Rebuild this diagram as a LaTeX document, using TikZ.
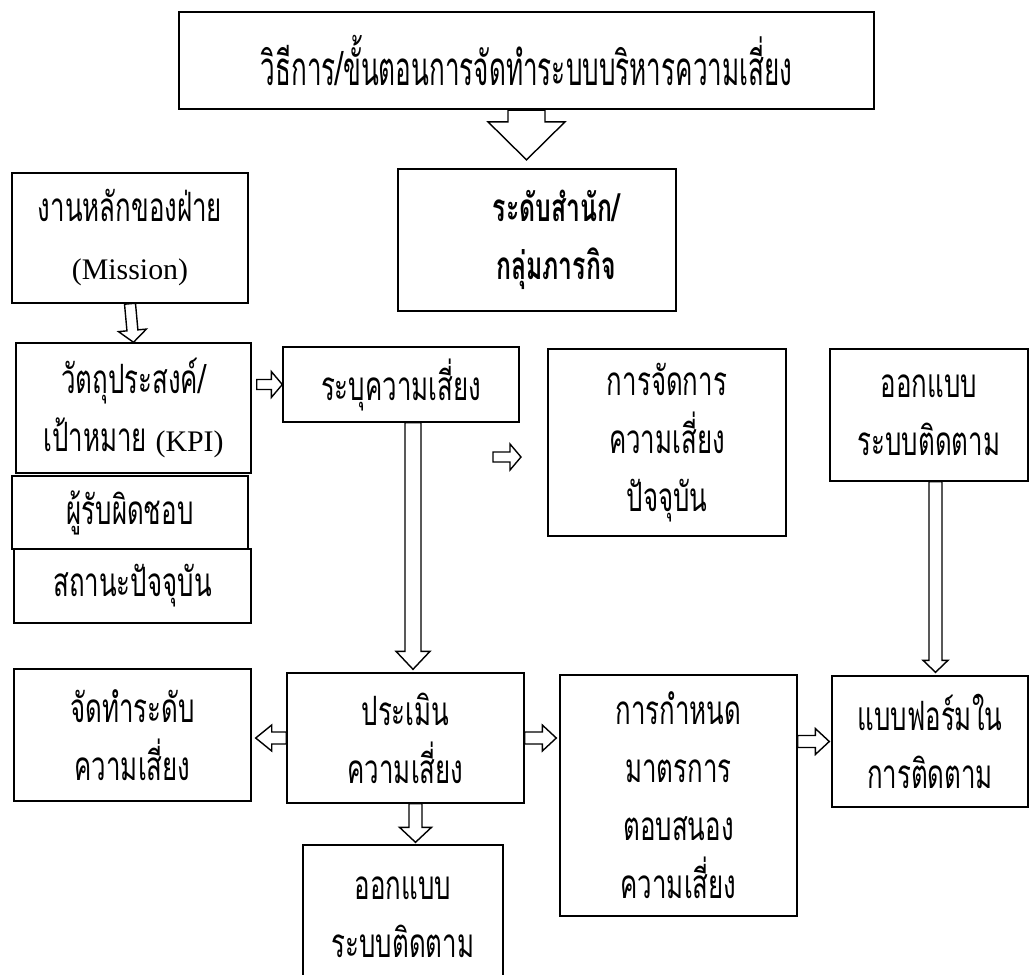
\documentclass[tikz,border=0pt]{standalone}
\usepackage{fontspec}
\setmainfont{Liberation Serif}
\newfontfamily\thaifont[Script=Thai,FakeStretch=0.64]{Loma}
\newfontfamily\titlefont[Script=Thai,FakeStretch=0.55]{Loma}
\usetikzlibrary{calc}
\newlength\px
\setlength\px{0.02cm}
\tikzset{
  tbox/.style={draw, line width=0.8pt, align=center, inner sep=0pt,
               font=\thaifont\fontsize{23}{33}\selectfont},
  tboxb/.style={tbox, line width=1.3pt},
  sz/.style 2 args={minimum width=#1\px, minimum height=#2\px},
  harrow/.style n args={3}{draw, line width=0.8pt, fill=white, line join=miter,
    to path={($(\tikztotarget)!#3!(\tikztostart)$) coordinate (hb)
      ($(\tikztostart)!#1!90:(\tikztotarget)$) -- ($(hb)!#1!90:(\tikztotarget)$)
      -- ($(hb)!#2!90:(\tikztotarget)$) -- (\tikztotarget)
      -- ($(hb)!#2!-90:(\tikztotarget)$) -- ($(hb)!#1!-90:(\tikztotarget)$)
      -- ($(\tikztostart)!#1!-90:(\tikztotarget)$) -- cycle}},
  sarrow/.style={harrow={0.1cm}{0.26cm}{0.22cm}},
}
\newcommand\latin[1]{{\rmfamily\fontsize{17}{33}\selectfont #1}}
\begin{document}
\begin{tikzpicture}[x=0.02cm, y=-0.02cm]
  \useasboundingbox (0,0) rectangle (1030,974);
  \node[tboxb, sz={695}{97}, font=\titlefont\fontsize{27}{33}\selectfont] (title) at (526.5,60.5)
    {วิธีการ/ขั้นตอนการจัดทำระบบบริหารความเสี่ยง};
  \node[tboxb, sz={278}{142}, font=\thaifont\bfseries\fontsize{22}{33}\selectfont] (unit) at (537,240)
    {\hspace*{38\px}ระดับสำนัก/\\\hspace*{38\px}กลุ่มภารกิจ};
  \node[tbox, sz={236}{130}] (mission) at (130,238) {งานหลักของฝ่าย\\\latin{(Mission)}};
  \node[tbox, sz={235}{130}] (obj) at (133.5,408) {วัตถุประสงค์/\\เป้าหมาย \latin{(KPI)}};
  \node[tbox, sz={236}{73}] (owner) at (130,512.5) {ผู้รับผิดชอบ};
  \node[tbox, sz={237}{74}] (status) at (132.5,586) {สถานะปัจจุบัน};
  \node[tbox, sz={236}{75}] (risk) at (401,384.5) {ระบุความเสี่ยง};
  \node[tbox, sz={238}{187}] (manage) at (667,442.5) {การจัดการ\\ความเสี่ยง\\ปัจจุบัน};
  \node[tbox, sz={198}{132}] (design) at (929,415) {ออกแบบ\\ระบบติดตาม};
  \node[tbox, sz={237}{132}] (level) at (132.5,735) {จัดทำระดับ\\ความเสี่ยง};
  \node[tbox, sz={237}{130}] (assess) at (405.5,738) {ประเมิน\\ความเสี่ยง};
  \node[tbox, sz={237}{241}] (respond) at (678.5,795.5) {การกำหนด\\มาตรการ\\ตอบสนอง\\ความเสี่ยง};
  \node[tbox, sz={196}{131}] (form) at (930,741.5) {แบบฟอร์มใน\\การติดตาม};
  \node[tbox, sz={200}{145}] (track) at (403,917.5) {ออกแบบ\\ระบบติดตาม};
  \coordinate (f1) at (493,457);
  \coordinate (f2) at (521,457);

  \draw[harrow={0.37cm}{0.77cm}{0.76cm}] (title.south) to ($(title.south |- unit.north)+(0,-8)$);
  \draw[harrow={0.11cm}{0.28cm}{0.24cm}] (mission.south) to (obj.north);
  \draw[sarrow] ($(obj.east |- risk.west)+(5,0)$) to (risk.west);
  \draw[sarrow] (f1) to (f2);
  \draw[harrow={0.16cm}{0.34cm}{0.36cm}] ($(risk.south)+(12,0)$) to ($(risk.south |- assess.north)+(12,-3)$);
  \draw[harrow={0.13cm}{0.25cm}{0.24cm}] ($(design.south)+(6.5,0)$) to ($(design.south |- form.north)+(6.5,-3)$);
  \draw[harrow={0.12cm}{0.26cm}{0.32cm}] (assess.west) to ($(assess.west -| level.east)+(4,0)$);
  \draw[harrow={0.12cm}{0.26cm}{0.28cm}] (assess.east) to ($(assess.east -| respond.west)+(-3,0)$);
  \draw[harrow={0.12cm}{0.26cm}{0.28cm}] (respond.east |- form.west) to ($(form.west)+(-2,0)$);
  \draw[harrow={0.13cm}{0.32cm}{0.3cm}] ($(assess.south)+(10,0)$) to ($(assess.south |- track.north)+(10,-2)$);
\end{tikzpicture}
\end{document}
